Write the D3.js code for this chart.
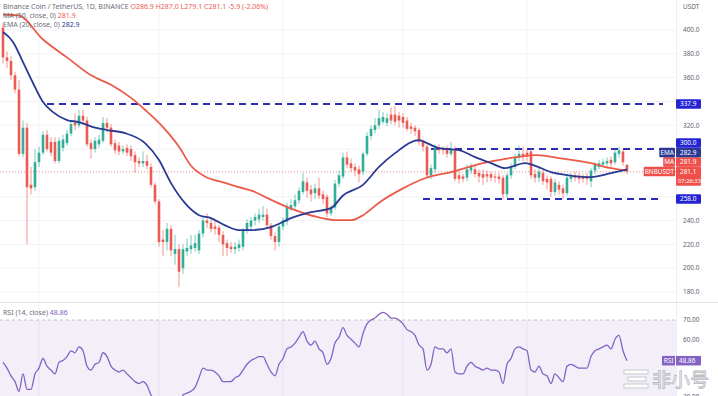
<!DOCTYPE html>
<html>
<head>
<meta charset="utf-8">
<script src="https://cdn.jsdelivr.net/npm/d3@7"></script>
<style>
body { margin: 0; background: #fff; }
svg { display: block; font-family: "Noto Sans", "DejaVu Sans", sans-serif; }
</style>
</head>
<body>
<svg width="718" height="396"></svg>
<script>
// daily candles [open, high, low, close]
const candles = [
  [402,406,372,377],[377,382,368,374],[374,378,358,362],[362,365,347,350],[350,358,294,296],
  [296,324,293,318],[318,322,220,268],[270,285,262,267],[268,300,265,289],[289,302,285,297],
  [297,315,295,312],[312,316,298,300],[306,310,294,297],[306,310,288,290],[290,310,288,307],
  [301,312,298,308],[305,316,303,313],[313,324,311,321],[322,330,316,320],[320,333,318,328],
  [328,333,320,324],[324,327,302,304],[305,308,292,300],[300,310,297,307],[304,312,301,308],
  [307,327,305,322],[322,326,314,318],[318,321,302,304],[305,308,296,299],[303,306,295,298],
  [298,303,296,300],[301,304,294,297],[300,303,290,294],[295,298,280,289],[290,293,285,288],
  [288,298,285,290],[290,295,283,286],[285,288,268,270],[270,272,254,256],[256,258,218,222],
  [224,232,210,222],[222,238,215,233],[233,236,210,215],[212,228,203,216],[216,220,184,197],
  [200,220,195,216],[214,225,210,217],[216,228,212,219],[217,228,214,221],[215,232,212,229],
  [229,244,226,240],[240,246,234,238],[238,242,230,233],[235,240,228,233],[234,236,222,228],
  [228,231,210,220],[221,224,210,217],[218,222,213,216],[216,222,212,218],[217,224,214,220],
  [218,234,215,232],[232,241,229,238],[235,243,231,240],[240,246,236,243],[241,250,238,245],
  [243,252,240,245],[245,250,233,236],[236,238,224,227],[227,230,215,222],[222,237,218,235],
  [235,243,232,240],[239,255,236,252],[250,258,248,253],[252,262,249,257],[257,268,254,265],
  [264,280,262,273],[272,276,259,265],[266,270,256,262],[263,271,258,267],[267,276,258,261],
  [262,265,254,258],[260,262,243,246],[246,253,244,251],[251,274,249,271],[271,282,268,278],
  [277,297,275,293],[293,298,284,287],[288,292,281,284],[285,288,277,282],[283,286,272,279],
  [281,298,278,296],[296,314,294,311],[311,320,308,317],[316,326,313,320],[320,333,317,326],
  [323,331,321,327],[322,330,319,326],[329,335,321,324],[329,336,320,323],[328,331,318,324],
  [327,330,318,322],[324,327,315,317],[319,322,313,317],[318,320,311,315],[316,318,303,306],
  [306,308,298,302],[302,304,276,278],[278,287,275,284],[283,304,280,301],[301,304,296,299],
  [300,302,295,299],[300,303,293,296],[296,306,294,300],[300,302,273,275],[278,281,271,275],
  [277,279,272,275],[276,287,273,283],[282,288,279,286],[283,286,276,279],[280,283,272,277],
  [279,283,270,276],[279,282,272,277],[279,281,273,276],[277,280,272,276],[277,280,271,275],
  [276,278,258,262],[262,280,259,278],[278,288,275,285],[285,296,283,293],[293,303,290,296],
  [296,302,290,294],[297,300,290,294],[298,300,275,278],[279,283,272,276],[276,285,272,281],
  [280,283,270,273],[275,278,266,272],[275,277,260,264],[264,275,261,272],[270,273,262,266],
  [267,270,258,263],[263,279,261,276],[275,280,272,277],[278,281,273,276],[277,280,271,275],
  [277,279,272,275],[277,280,270,275],[273,284,268,282],[282,289,279,287],[285,291,283,288],
  [287,292,285,289],[288,293,286,290],[291,294,285,288],[289,300,287,297],[296,302,293,299],
  [298,300,286,289],[286.9,287.0,279.1,281.1]
];

// moving averages, [candle index, value]
const ma50 = [[0,413],[4,412],[10,392],[16,377],[22,362],[27,354],[32,343],[35.5,333],[40,318.5],
  [44,302],[47,286],[50.5,277],[55,272],[59,268],[63,264],[66,259],[72,250],[78.5,243],[83.5,240.3],
  [87,240.3],[90,244.5],[94,255],[100,267],[105.5,275.5],[112,280.7],[120,288.2],[128.5,293.3],
  [133.5,295],[139,292.4],[147,288.2],[152,284],[156,281.9]];
const ema20 = [[0,398.3],[2.5,390],[5,373],[7.5,355.5],[10,339.5],[12.5,331],[16,324.4],[19,322.7],
  [22.5,318.5],[26,316],[30.5,313.4],[35.5,305],[39,290.8],[42,271.4],[45.5,254.6],[49,244.5],[52,242],
  [55.5,236],[59,232],[62,232],[67,234.5],[72,242],[77,247],[82,250.4],[85,261],[90,270],[94,285],
  [98,296.6],[104,307.6],[106,305],[109,300.8],[114,299.2],[118,293.3],[122,288.2],[125.5,284],
  [130.5,288.2],[132.5,286.6],[137,280.7],[141,278.2],[147,276.5],[152,279.8],[156,282.9]];

const rsi = [
  48,45,41,38,33,42,34,34,42,45,
  50,46,44,42,48,49,51,54,53,56,
  54,46,44,47,48,53,51,46,44,43,
  44,42,40,38,37,38,36,31,28,22,
  22,28,24,26,22,31,32,33,35,40,
  45,44,44,43,41,38,38,38,40,41,
  44,47,49,50,51,51,47,43,41,47,
  50,55,56,58,61,64,59,57,59,55,
  53,47,50,58,61,66,62,60,58,56,
  63,68,70,71,73,74,73,71,71,70,
  68,65,64,62,57,55,44,47,56,55,
  55,53,55,43,42,42,46,48,46,45,
  44,45,44,44,43,37,47,50,55,56,
  55,54,44,43,46,42,41,37,42,40,
  38,46,47,46,45,45,45,51,54,55,
  56,57,55,60,62,54,48.86
];

const priceTicks = [400,380,360,340,320,300,280,260,240,220,200,180];
const rsiTicks = [70,60,50,30];
const levelPrices = [337.9, 300.0, 258.0];
const levelFrom = [11, 107, 105];
const lastClose = 281.1, lastMa = 281.9, lastEma = 282.9, lastRsi = 48.86;

const svg = d3.select("svg");
const W = 718, H = 396;
const plotR = 676, paneB = 302;

const x = d3.scaleLinear().domain([0, candles.length - 1]).range([3, 627]);
const y = d3.scaleLinear().domain([180, 400]).range([292, 30]);
const yR = d3.scaleLinear().domain([30, 70]).range([397, 320]);

const up = "#33ad98", down = "#ec5a54";
const blueLvl = "#2b2bb3", emaCol = "#2a3a94", maCol = "#ec5a48", rsiCol = "#8462c4";

const defs = svg.append("defs");
defs.append("clipPath").attr("id", "pp").append("rect")
  .attr("x", 0).attr("y", 0).attr("width", plotR).attr("height", paneB);
defs.append("clipPath").attr("id", "rp").append("rect")
  .attr("x", 0).attr("y", paneB + 1).attr("width", plotR).attr("height", H - paneB);

// grid
const grid = svg.append("g");
grid.selectAll("line.h").data(priceTicks).enter().append("line")
  .attr("x1", 0).attr("x2", plotR).attr("y1", d => y(d)).attr("y2", d => y(d))
  .attr("stroke", "#f1f2f6");
grid.selectAll("line.v").data([9, 39, 70, 100, 131]).enter().append("line")
  .attr("x1", d => x(d)).attr("x2", d => x(d)).attr("y1", 0).attr("y2", H)
  .attr("stroke", "#f1f2f6");
svg.append("line").attr("x1", plotR + 0.5).attr("x2", plotR + 0.5).attr("y1", 0).attr("y2", H)
  .attr("stroke", "#eceef2");
svg.append("line").attr("x1", 0).attr("x2", W).attr("y1", paneB + 0.5).attr("y2", paneB + 0.5)
  .attr("stroke", "#e0e3eb");

const price = svg.append("g").attr("clip-path", "url(#pp)");

// current price dotted line
price.append("line").attr("x1", 0).attr("x2", plotR)
  .attr("y1", y(lastClose)).attr("y2", y(lastClose))
  .attr("stroke", down).attr("stroke-opacity", 0.6).attr("stroke-dasharray", "1,2");

// support / resistance levels
price.selectAll("line.lvl").data(levelPrices).enter().append("line")
  .attr("x1", (d, i) => x(levelFrom[i])).attr("x2", 663)
  .attr("y1", d => y(d)).attr("y2", d => y(d))
  .attr("stroke", blueLvl).attr("stroke-width", 2).attr("stroke-dasharray", "7,5");

// candles
const cg = price.selectAll("g.c").data(candles).enter().append("g");
cg.append("line")
  .attr("x1", (d, i) => x(i)).attr("x2", (d, i) => x(i))
  .attr("y1", d => y(d[1])).attr("y2", d => y(d[2]))
  .attr("stroke", d => d[3] >= d[0] ? up : down).attr("stroke-width", 0.8).attr("opacity", 0.8);
cg.append("rect")
  .attr("x", (d, i) => x(i) - 1.3).attr("width", 2.6)
  .attr("y", d => y(Math.max(d[0], d[3])))
  .attr("height", d => Math.max(1, Math.abs(y(d[0]) - y(d[3]))))
  .attr("fill", d => d[3] >= d[0] ? up : down);

// MA lines
const line = d3.line().x(d => x(d[0])).y(d => y(d[1])).curve(d3.curveMonotoneX);
price.append("path").datum(ma50).attr("d", line).attr("fill", "none")
  .attr("stroke", maCol).attr("stroke-width", 1.8);
price.append("path").datum(ema20).attr("d", line).attr("fill", "none")
  .attr("stroke", emaCol).attr("stroke-width", 1.8);

// RSI pane
const rp = svg.append("g").attr("clip-path", "url(#rp)");
rp.append("rect").attr("x", 0).attr("width", plotR)
  .attr("y", yR(70)).attr("height", yR(30) - yR(70))
  .attr("fill", rsiCol).attr("fill-opacity", 0.1);
rp.selectAll("line.b").data([70, 30]).enter().append("line")
  .attr("x1", 0).attr("x2", plotR).attr("y1", d => yR(d)).attr("y2", d => yR(d))
  .attr("stroke", "#9a9ca6").attr("stroke-dasharray", "3,3").attr("stroke-opacity", 0.6);
rp.append("path").datum(rsi)
  .attr("d", d3.line().x((d, i) => x(i)).y(d => yR(d)).curve(d3.curveMonotoneX))
  .attr("fill", "none").attr("stroke", rsiCol).attr("stroke-width", 1.3);

// legends
const fs = 6.4;
const lg = svg.append("g").attr("font-size", 7);
const l1 = lg.append("text").attr("x", 3).attr("y", 9);
l1.append("tspan").attr("fill", "#6b6e79").text("Binance Coin / TetherUS, 1D, BINANCE  ");
l1.append("tspan").attr("fill", down).text("O286.9  H287.0  L279.1  C281.1  -5.9 (-2.06%)");
const l2 = lg.append("text").attr("x", 3).attr("y", 18);
l2.append("tspan").attr("fill", "#6b6e79").text("MA (50, close, 0)  ");
l2.append("tspan").attr("fill", maCol).text(lastMa.toFixed(1));
const l3 = lg.append("text").attr("x", 3).attr("y", 27);
l3.append("tspan").attr("fill", "#6b6e79").text("EMA (20, close, 0)  ");
l3.append("tspan").attr("fill", emaCol).text(lastEma.toFixed(1));
const l4 = lg.append("text").attr("x", 3).attr("y", 315);
l4.append("tspan").attr("fill", "#6b6e79").text("RSI (14, close)  ");
l4.append("tspan").attr("fill", rsiCol).text(lastRsi.toFixed(2));

// value boxes on the price scale, stacked so they do not overlap
const bh = 9.5;
let boxes = levelPrices.map(p => ({ v: p, fill: "#2424d6", tag: null }));
boxes.push({ v: lastEma, fill: emaCol, tag: "EMA" });
boxes.push({ v: lastMa, fill: "#ee4f4b", tag: "MA" });
boxes.push({ v: lastClose, fill: "#ee4f4b", tag: "BNBUSDT", sub: "07:26:33" });
boxes.forEach(b => b.y = y(b.v));
boxes.sort((a, b) => b.y - a.y);
let prev = Infinity;
boxes.forEach(b => { b.cy = Math.min(b.y, prev - bh); prev = b.cy; });

// tick labels hidden where a box covers them
const ax = svg.append("g").attr("font-size", fs).attr("fill", "#5d606b");
ax.append("text").attr("x", 683).attr("y", 9).text("USDT");
ax.selectAll("text.t").data(priceTicks.filter(t => boxes.every(b => Math.abs(y(t) - b.cy) > 7)))
  .enter().append("text").attr("x", 683).attr("y", d => y(d) + 2.3).text(d => d.toFixed(1));
ax.selectAll("text.r").data(rsiTicks.filter(t => Math.abs(yR(t) - yR(lastRsi)) > 7))
  .enter().append("text").attr("x", 683).attr("y", d => yR(d) + 2.3).text(d => d.toFixed(2));

const bx = svg.append("g").attr("font-size", fs);
boxes.forEach(b => {
  const hh = b.sub ? bh * 2 : bh;
  bx.append("rect").attr("x", plotR).attr("y", b.cy - bh / 2).attr("width", 25).attr("height", hh)
    .attr("fill", b.fill).attr("rx", 1);
  bx.append("text").attr("x", 680).attr("y", b.cy + 2.3).attr("fill", "#fff").text(b.v.toFixed(1));
  if (b.sub) bx.append("text").attr("x", 678).attr("y", b.cy + bh + 2.3).attr("fill", "#fff")
    .attr("font-size", 5.8).text(b.sub);
  if (b.tag) {
    const tw = b.tag.length * 3.9 + 4;
    bx.append("rect").attr("x", plotR - tw - 1).attr("y", b.cy - bh / 2).attr("width", tw).attr("height", bh)
      .attr("fill", b.fill).attr("rx", 1);
    bx.append("text").attr("x", plotR - 1 - tw / 2).attr("y", b.cy + 2.3).attr("text-anchor", "middle")
      .attr("fill", "#fff").text(b.tag);
  }
});
// RSI value box
const ry = yR(lastRsi);
bx.append("rect").attr("x", plotR).attr("y", ry - bh / 2).attr("width", 25).attr("height", bh).attr("fill", rsiCol);
bx.append("text").attr("x", 679).attr("y", ry + 2.3).attr("fill", "#fff").text(lastRsi.toFixed(2));
bx.append("rect").attr("x", 662).attr("y", ry - bh / 2).attr("width", 13).attr("height", bh).attr("fill", rsiCol);
bx.append("text").attr("x", 668.5).attr("y", ry + 2.3).attr("text-anchor", "middle").attr("fill", "#fff").text("RSI");

// watermark
const wm = svg.append("g").attr("opacity", 0.92);
[[624, 370], [624, 377], [624, 384]].forEach((p, i) => {
  wm.append("rect").attr("x", p[0] + (i === 1 ? 4 : 0)).attr("y", p[1]).attr("width", i === 1 ? 18 : 24)
    .attr("height", 4).attr("fill", "#fff").attr("stroke", "#b9b9bf").attr("stroke-width", 0.8);
});
wm.append("text").attr("x", 652).attr("y", 387).attr("font-size", 19)
  .attr("font-family", "'Noto Sans CJK SC', sans-serif")
  .attr("fill", "#fff").attr("stroke", "#aeb0b8").attr("stroke-width", 0.8).text("非小号");
</script>
</body>
</html>
